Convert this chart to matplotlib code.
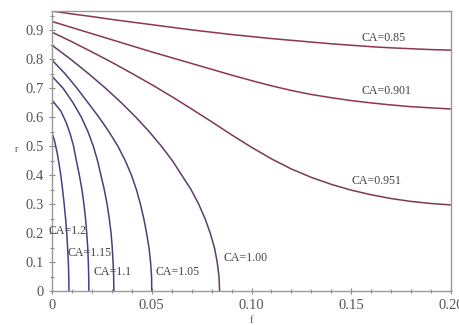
import matplotlib
matplotlib.use("Agg")
import matplotlib.pyplot as plt
from matplotlib.ticker import FixedLocator, MultipleLocator

# shallow curves, r read at fixed f
f_grid = [0.0, 0.01, 0.02, 0.03, 0.04, 0.05, 0.06, 0.07, 0.08, 0.09, 0.10,
          0.11, 0.12, 0.13, 0.14, 0.15, 0.16, 0.17, 0.18, 0.19, 0.20]
r_085 = [0.966, 0.956, 0.947, 0.937, 0.928, 0.919, 0.910, 0.901, 0.893, 0.885, 0.878,
         0.871, 0.865, 0.859, 0.853, 0.848, 0.843, 0.839, 0.836, 0.833, 0.831]
r_0901 = [0.930, 0.909, 0.888, 0.867, 0.846, 0.825, 0.805, 0.785, 0.765, 0.745, 0.726,
          0.708, 0.692, 0.678, 0.667, 0.657, 0.649, 0.642, 0.636, 0.632, 0.628]
r_0951 = [0.893, 0.860, 0.825, 0.789, 0.751, 0.712, 0.671, 0.628, 0.584, 0.539, 0.496,
          0.456, 0.421, 0.392, 0.368, 0.348, 0.332, 0.319, 0.309, 0.302, 0.297]

# steep curves, f read at fixed r
r_100 = [0.848, 0.80, 0.75, 0.70, 0.65, 0.60, 0.55, 0.50, 0.45, 0.40, 0.35,
         0.30, 0.25, 0.20, 0.15, 0.10, 0.05, 0.0]
f_100 = [0.0, 0.0093, 0.0183, 0.0268, 0.0347, 0.0420, 0.0487, 0.0548, 0.0603,
         0.0650, 0.0697, 0.0735, 0.0767, 0.0793, 0.0814, 0.0828, 0.0837, 0.0840]
r_105 = [0.797, 0.75, 0.70, 0.65, 0.60, 0.55, 0.50, 0.45, 0.40, 0.35, 0.30,
         0.25, 0.20, 0.15, 0.10, 0.05, 0.0]
f_105 = [0.0, 0.0065, 0.0125, 0.0180, 0.0235, 0.0285, 0.0330, 0.0367, 0.0398,
         0.0423, 0.0443, 0.0460, 0.0474, 0.0486, 0.0494, 0.0499, 0.0500]
r_110 = [0.741, 0.70, 0.65, 0.60, 0.55, 0.50, 0.45, 0.40, 0.35, 0.30, 0.25,
         0.20, 0.15, 0.10, 0.05, 0.0]
f_110 = [0.0, 0.0055, 0.0105, 0.0147, 0.0180, 0.0207, 0.0228, 0.0245, 0.0262,
         0.0276, 0.0287, 0.0296, 0.0302, 0.0306, 0.0309, 0.0310]
r_115 = [0.659, 0.62, 0.58, 0.54, 0.50, 0.45, 0.40, 0.35, 0.30, 0.25, 0.20,
         0.15, 0.10, 0.05, 0.0]
f_115 = [0.0, 0.0045, 0.0072, 0.0092, 0.0108, 0.0122, 0.0137, 0.0150, 0.0160,
         0.0168, 0.0174, 0.0179, 0.0182, 0.0184, 0.0185]
r_120 = [0.545, 0.52, 0.48, 0.44, 0.40, 0.35, 0.30, 0.25, 0.20, 0.15, 0.10, 0.05, 0.0]
f_120 = [0.0, 0.0012, 0.0025, 0.0035, 0.0044, 0.0053, 0.0061, 0.0068, 0.0074,
         0.0078, 0.0082, 0.0084, 0.0085]

labels = ["CA=0.85", "CA=0.901", "CA=0.951", "CA=1.00", "CA=1.05", "CA=1.1", "CA=1.15", "CA=1.2"]
label_f = [0.155, 0.155, 0.150, 0.086, 0.052, 0.021, 0.008, -0.002]
label_r = [0.872, 0.690, 0.379, 0.114, 0.066, 0.066, 0.131, 0.207]

xticks = [0, 0.05, 0.10, 0.15, 0.20]
xtick_labels = ["0", "0.05", "0.10", "0.15", "0.20"]
yticks = [0, 0.1, 0.2, 0.3, 0.4, 0.5, 0.6, 0.7, 0.8, 0.9]
ytick_labels = ["0", "0.1", "0.2", "0.3", "0.4", "0.5", "0.6", "0.7", "0.8", "0.9"]

plt.rcParams["font.family"] = ["Liberation Serif", "DejaVu Serif"]

fig = plt.figure(figsize=(4.59, 3.25), dpi=100)
ax = fig.add_axes([0.1133, 0.1046, 0.8693, 0.8614])

red = "#8e3550"
ax.plot(f_grid, r_085, color=red, lw=1.1)
ax.plot(f_grid, r_0901, color=red, lw=1.1)
ax.plot(f_grid, r_0951, color="#7e3858", lw=1.1)
ax.plot(f_100, r_100, color="#5e3c6a", lw=1.1)
ax.plot(f_105, r_105, color="#4c4076", lw=1.1)
ax.plot(f_110, r_110, color="#43427c", lw=1.1)
ax.plot(f_115, r_115, color="#404482", lw=1.1)
ax.plot(f_120, r_120, color="#3e4486", lw=1.1)

for lab, fx, ry in zip(labels, label_f, label_r):
    ax.text(fx, ry, lab, fontsize=8.6, color="#444444", va="center", ha="left")

ax.set_xlim(0, 0.2)
ax.set_ylim(0, 0.966)
ax.xaxis.set_major_locator(FixedLocator(xticks))
ax.set_xticklabels(xtick_labels)
ax.yaxis.set_major_locator(FixedLocator(yticks))
ax.set_yticklabels(ytick_labels)
ax.xaxis.set_minor_locator(MultipleLocator(0.01))
ax.yaxis.set_minor_locator(MultipleLocator(0.05))
ax.tick_params(which="both", direction="inout", color="#888888",
               labelsize=10.5, labelcolor="#555555", width=0.8)
ax.tick_params(which="major", length=5)
ax.tick_params(which="minor", length=3)
for s in ax.spines.values():
    s.set_color("#999999")
    s.set_linewidth(1.0)

ax.set_ylabel("r", fontsize=7, color="#555555", rotation=0, labelpad=2)
ax.yaxis.set_label_coords(-0.09, 0.49)
ax.set_xlabel("f", fontsize=7, color="#555555")
ax.xaxis.set_label_coords(0.5, -0.088)

fig.savefig("out.png", dpi=100)
